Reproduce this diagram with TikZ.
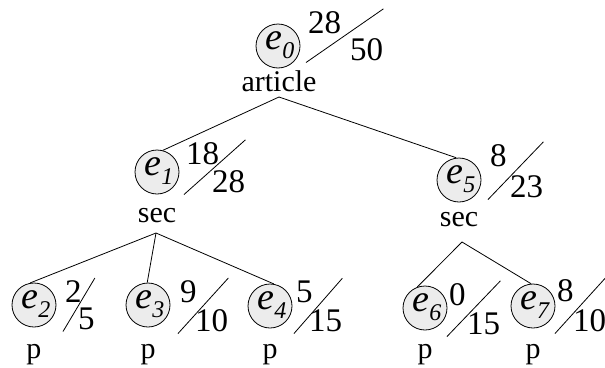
\documentclass[tikz,border=0pt]{standalone}
\usepackage{fontspec}
\setmainfont{Liberation Serif}
\usetikzlibrary{calc}
\begin{document}
\begin{tikzpicture}[x=1pt,y=-1pt,
  ent/.style={circle,draw=black,fill=gray!15,line width=0.8pt,minimum size=44pt,inner sep=0pt},
  etext/.style={inner sep=0pt,font=\fontsize{38}{38}\selectfont},
  lbl/.style={inner sep=0pt,anchor=base,font=\fontsize{30}{30}\selectfont},
  numb/.style={inner sep=0pt,anchor=base west,font=\fontsize{33}{33}\selectfont},
  edge/.style={line width=0.8pt},
  slash/.style={line width=0.8pt}]
\useasboundingbox (0,0) rectangle (605,367);
\newcommand{\entsub}[1]{\textit{e}\raisebox{-9pt}{\fontsize{24}{24}\selectfont\textit{#1}}}
\newcommand{\fracslash}[2]{\draw[slash] ($(#1.west |- #2.south)+(-2,2)$) -- ($(#2.east |- #1.north)+(0,-2)$);}
% circles
\node[ent] (c0) at (278,46) {};
\node[ent] (c1) at (157,172) {};
\node[ent] (c5) at (459,180) {};
\node[ent] (c2) at (34,305) {};
\node[ent] (c3) at (148,305) {};
\node[ent] (c4) at (270,306) {};
\node[ent] (c6) at (425,308) {};
\node[ent] (c7) at (533,306) {};
% e labels
\foreach \i in {0,1,2,3,4,5,6,7}{
  \node[etext] (t\i) at ($(c\i.center)+(2,-1)$) {\entsub{\i}};
}
% type labels
\node[lbl] (l0) at (279,91) {article};
\node[lbl] (l1) at (157,222) {sec};
\node[lbl] (l5) at (459,226) {sec};
\node[lbl] (l2) at (34,358) {p};
\node[lbl] (l3) at (148,358) {p};
\node[lbl] (l4) at (270,358) {p};
\node[lbl] (l6) at (425,358) {p};
\node[lbl] (l7) at (533,358) {p};
% fractions
\node[numb] (n0) at (308,33) {28}; \node[numb] (d0) at (350,60) {50}; \fracslash{n0}{d0}
\node[numb] (n1) at (186,164) {18}; \node[numb] (d1) at (212,192) {28}; \fracslash{n1}{d1}
\node[numb] (n5) at (490,166) {8}; \node[numb] (d5) at (510,197) {23}; \fracslash{n5}{d5}
\node[numb] (n2) at (65,302) {2}; \node[numb] (d2) at (78,329) {5}; \fracslash{n2}{d2}
\node[numb] (n3) at (180,302) {9}; \node[numb] (d3) at (195,331) {10}; \fracslash{n3}{d3}
\node[numb] (n4) at (296,302) {5}; \node[numb] (d4) at (309,331) {15}; \fracslash{n4}{d4}
\node[numb] (n6) at (449,305) {0}; \node[numb] (d6) at (467,334) {15}; \fracslash{n6}{d6}
\node[numb] (n7) at (557,301) {8}; \node[numb] (d7) at (573,331) {10}; \fracslash{n7}{d7}
% edge apexes
\coordinate (a0) at (279,97);
\coordinate (a1) at (156,233);
\coordinate (a5) at (462,242);
\draw[edge] (a0) -- (c1.75);
\draw[edge] (a0) -- (c5.97);
\draw[edge] (a1) -- (c2.100);
\draw[edge] (a1) -- (c3.92);
\draw[edge] (a1) -- (c4.80);
\draw[edge] (a5) -- (c6.110);
\draw[edge] (a5) -- (c7.95);
\end{tikzpicture}
\end{document}
